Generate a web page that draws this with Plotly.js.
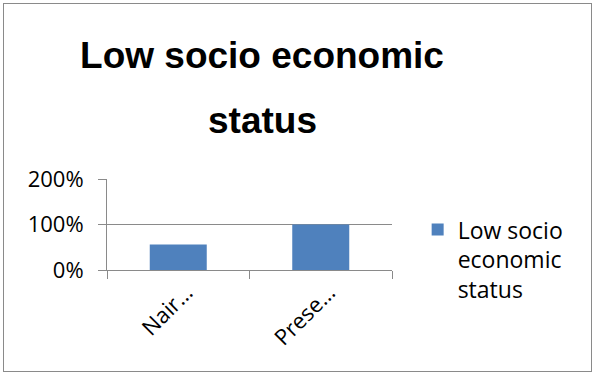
<!DOCTYPE html>
<html>
<head>
<meta charset="utf-8">
<script src="https://cdn.plot.ly/plotly-3.0.1.min.js"></script>
<style>
  html, body { margin: 0; padding: 0; background: #fff; }
  #wrap { position: relative; width: 595px; height: 375px; }
  #chart { position: absolute; left: 0; top: 0; width: 595px; height: 375px; }
  #frame { position: absolute; left: 3px; top: 3px; width: 587px; height: 367px;
           border: 1px solid #8a8a8a; pointer-events: none; }
</style>
</head>
<body>
<div id="wrap">
  <div id="chart"></div>
  <div id="frame"></div>
</div>
<script>
// Data
const categories = ["Nair…", "Prese…"];
const values = [0.56, 1.00];
const seriesName = "Low socio<br>economic<br>status";
const titleLine1 = "Low socio economic";
const titleLine2 = "status";
const yTickValues = [0, 1, 2];
const yTickLabels = ["0%", "100%", "200%"];

const tickFont = { family: "Open Sans, sans-serif", size: 22, color: "#000000" };
const titleFont = { family: "Liberation Sans, Arial, sans-serif", size: 37, color: "#000000", weight: "bold" };

const trace = {
  type: "bar",
  x: categories,
  y: values,
  name: seriesName,
  marker: { color: "#4f81bd" },
  hoverinfo: "x+y"
};

const layout = {
  width: 595,
  height: 375,
  margin: { l: 107, r: 203, t: 179, b: 105 },
  paper_bgcolor: "#ffffff",
  plot_bgcolor: "#ffffff",
  title: {
    text: titleLine1,
    font: titleFont,
    xref: "container",
    x: 262 / 595,
    xanchor: "center",
    yref: "container",
    y: 1 - 55 / 375,
    yanchor: "middle"
  },
  annotations: [{
    text: titleLine2,
    font: titleFont,
    xref: "paper",
    yref: "paper",
    x: (262 - 107) / 285,
    y: (270 - 120) / 91,
    xanchor: "center",
    yanchor: "middle",
    showarrow: false
  }],
  bargap: 0.6,
  showlegend: true,
  legend: {
    x: 1.09,
    xanchor: "left",
    y: 0.68,
    yanchor: "top",
    valign: "top",
    font: { family: "Open Sans, sans-serif", size: 23, color: "#000000" },
    bgcolor: "rgba(0,0,0,0)"
  },
  xaxis: {
    type: "category",
    tickangle: -45,
    tickson: "boundaries",
    ticks: "outside",
    ticklen: 8,
    tickcolor: "#8a8a8a",
    ticklabelshift: 8,
    showline: true,
    linecolor: "#8a8a8a",
    linewidth: 1,
    showgrid: false,
    tickfont: tickFont,
    fixedrange: true
  },
  yaxis: {
    range: [0, 2],
    tickvals: yTickValues,
    ticktext: yTickLabels,
    ticks: "outside",
    ticklen: 8,
    tickcolor: "#8a8a8a",
    ticklabelstandoff: 10,
    showline: true,
    linecolor: "#8a8a8a",
    linewidth: 1,
    showgrid: true,
    gridcolor: "#8a8a8a",
    gridwidth: 1,
    zeroline: false,
    tickfont: tickFont,
    fixedrange: true
  }
};

Plotly.newPlot("chart", [trace], layout, { displayModeBar: false, staticPlot: true });
</script>
</body>
</html>
